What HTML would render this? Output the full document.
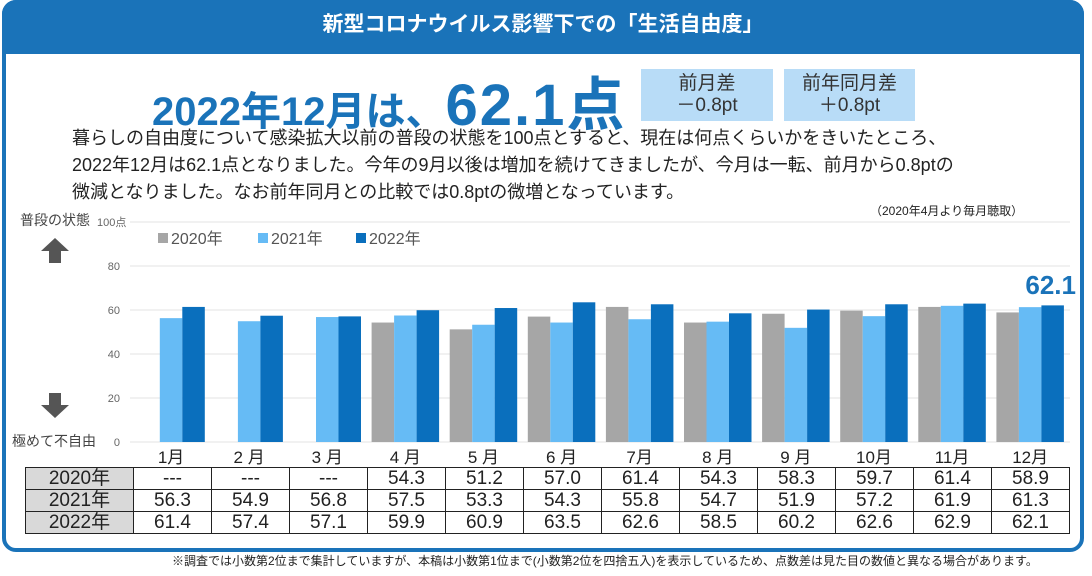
<!DOCTYPE html>
<html><head><meta charset="utf-8"><style>
body{margin:0;width:1092px;height:576px;background:#fff;position:relative;overflow:hidden;font-family:"Liberation Sans","Noto Sans CJK JP",sans-serif;}
.abs{position:absolute;}
#box{left:2px;top:0;width:1074px;height:544px;border:4px solid #1a73b9;border-radius:14px;}
#hdr{left:2px;top:0;width:1082px;height:54px;background:#1a73b9;border-radius:14px 14px 0 0;color:#fff;font-size:21px;font-weight:bold;text-align:center;line-height:50px;}
.pill{background:#b8dcf7;color:#333;font-size:19px;text-align:center;line-height:22px;padding-top:4px;}
#big{left:152px;top:58px;color:#1a73b9;font-weight:bold;white-space:nowrap;}
.body{left:72px;font-size:18px;color:#222;white-space:nowrap;}
table{border-collapse:collapse;position:absolute;left:25px;top:467px;}
td{border:1.5px solid #222;height:21px;padding:0;text-align:center;font-size:19px;color:#222;line-height:21px;width:77px;}
td.l{background:#d9d9d9;width:107px;}
</style></head><body>
<div id="box" class="abs"></div>
<div id="hdr" class="abs">新型コロナウイルス影響下での「生活自由度」</div>
<div id="big" class="abs"><span style="font-size:40px">2022年12月は、</span><span style="font-size:58px;letter-spacing:2px">62.1点</span></div>
<div class="abs pill" style="left:641px;top:69px;width:132px;height:48px">前月差<br>－0.8pt</div>
<div class="abs pill" style="left:784px;top:69px;width:131px;height:48px">前年同月差<br>＋0.8pt</div>
<div class="abs body" style="top:124px">暮らしの自由度について感染拡大以前の普段の状態を100点とすると、現在は何点くらいかをきいたところ、</div>
<div class="abs body" style="top:151px">2022年12月は62.1点となりました。今年の9月以後は増加を続けてきましたが、今月は一転、前月から0.8ptの</div>
<div class="abs body" style="top:178px">微減となりました。なお前年同月との比較では0.8ptの微増となっています。</div>
<div class="abs" style="left:870px;top:202px;font-size:12px;color:#222">（2020年4月より毎月聴取）</div>
<div class="abs" style="left:20px;top:210px;font-size:14px;color:#444">普段の状態</div>
<div class="abs" style="left:12px;top:431px;font-size:14px;color:#444">極めて不自由</div>
<svg class="abs" style="left:0;top:0" width="1092" height="576">
<g id="arrows" fill="#555">
<polygon points="55,238 69,251 61,251 61,263 49,263 49,251 41,251"/>
<polygon points="55,418 69,405 61,405 61,393 49,393 49,405 41,405"/>
</g>
<g id="grid"></g><g id="bars"></g><g id="labels"></g>
<g font-size="16" fill="#555">
<rect x="158" y="233" width="10" height="10" fill="#a6a6a6"/><text x="171" y="244">2020年</text>
<rect x="258" y="233" width="10" height="10" fill="#66bbf5"/><text x="271" y="244">2021年</text>
<rect x="356" y="233" width="10" height="10" fill="#0a6fbd"/><text x="369" y="244">2022年</text>
</g>
<text x="1076" y="294" text-anchor="end" font-size="26" font-weight="bold" fill="#1a73b9">62.1</text>
</svg>
<table id="tbl"></table>
<div class="abs" style="left:172px;top:552px;font-size:12px;color:#222">※調査では小数第2位まで集計していますが、本稿は小数第1位まで(小数第2位を四捨五入)を表示しているため、点数差は見た目の数値と異なる場合があります。</div>
<script>
const months=['1月','2 月','3 月','4 月','5 月','6 月','7月','8 月','9 月','10月','11月','12月'];
const years=['2020年','2021年','2022年'];
const s2020=[null,null,null,54.3,51.2,57.0,61.4,54.3,58.3,59.7,61.4,58.9];
const s2021=[56.3,54.9,56.8,57.5,53.3,54.3,55.8,54.7,51.9,57.2,61.9,61.3];
const s2022=[61.4,57.4,57.1,59.9,60.9,63.5,62.6,58.5,60.2,62.6,62.9,62.1];
const ticks=[0,20,40,60,80,100];
const NS='http://www.w3.org/2000/svg';
const X0=132,GW=78.1,Y0=442,PX=2.2,BW=22.5;
const y=v=>Y0-v*PX;
const colors=['#a6a6a6','#66bbf5','#0a6fbd'];
const series=[s2020,s2021,s2022];
function mk(t,a,p){const e=document.createElementNS(NS,t);for(const k in a)e.setAttribute(k,a[k]);p.appendChild(e);return e;}
const g=document.getElementById('grid');
ticks.forEach(t=>{
 const l=mk('line',{x1:130,x2:1070,y1:y(t),y2:y(t),stroke:'#e3e3e3','stroke-width':1},g);
 
 
 const tx=mk('text',{x:t==100?97:120,y:y(t)+4,'font-size':11,fill:'#666','text-anchor':t==100?'start':'end'},g);
 tx.textContent=t==100?'100点':t;
 
 
});
const b=document.getElementById('bars');
months.forEach((m,i)=>{
 const c=X0+GW*(i+0.5);
 series.forEach((s,k)=>{
  if(s[i]==null)return;
  const r=mk('rect',{x:c+(k-1.5)*BW,y:y(s[i]),width:BW,height:s[i]*PX,fill:colors[k]},b);
  
  
 });
 const t=mk('text',{x:c,y:463,'font-size':17,fill:'#222','text-anchor':'middle'},document.getElementById('labels'));
 t.textContent=m;
 
 
});
const tb=document.getElementById('tbl');
series.forEach((s,k)=>{
 const tr=document.createElement('tr');
 
 
 let h='<td class="l">'+years[k]+'</td>';
 s.forEach(v=>{h+='<td>'+(v==null?'---':v.toFixed(1))+'</td>';});
 tr.innerHTML=h;tb.appendChild(tr);
});
</script>
</body></html>
